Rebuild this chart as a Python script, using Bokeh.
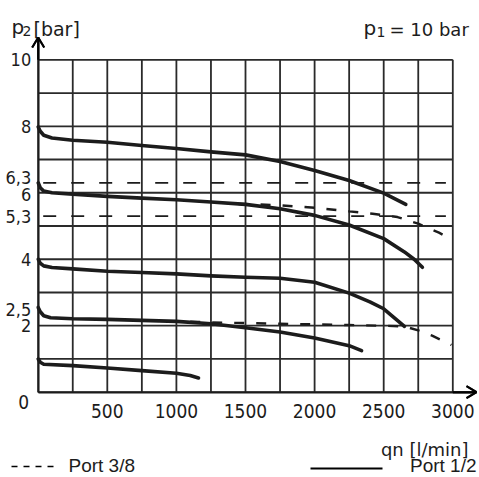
from bokeh.plotting import figure
from bokeh.models import FixedTicker, Label, Arrow, Range1d, LinearAxis
from bokeh.embed import file_html
from bokeh.resources import INLINE

# ---------------- data ----------------
x_ticks = [500, 1000, 1500, 2000, 2500, 3000]
x_tick_labels = ["500", "1000", "1500", "2000", "2500", "3000"]
y_ticks = [2, 2.5, 4, 5.3, 8, 10]
y_tick_labels = ["2", "2,5", "4", "5,3", "8", "10"]
y_ticks_close = [6, 6.3]            # two close ticks, labels nudged apart
y_tick_labels_close = ["6", "6,3"]
grid_x = [0, 250, 500, 750, 1000, 1250, 1500, 1750, 2000, 2250, 2500, 2750, 3000]
grid_y = [0, 1, 2, 3, 4, 5, 6, 7, 8, 9, 10]
ref_levels = [6.3, 5.3]
ref_x_end = 2950

# Port 1/2 (solid)
s8_x = [0, 15, 40, 100, 250, 500, 750, 1000, 1250, 1500, 1750, 2000, 2250, 2500, 2660]
s8_y = [7.98, 7.85, 7.73, 7.65, 7.58, 7.52, 7.42, 7.33, 7.23, 7.14, 6.94, 6.67, 6.37, 5.99, 5.65]
s6_x = [0, 15, 40, 100, 250, 500, 750, 1000, 1250, 1500, 1750, 2000, 2250, 2500, 2650, 2720, 2780]
s6_y = [6.3, 6.15, 6.05, 6.0, 5.96, 5.89, 5.84, 5.79, 5.72, 5.65, 5.52, 5.32, 5.03, 4.62, 4.22, 4.0, 3.76]
s4_x = [0, 15, 40, 100, 250, 500, 750, 1000, 1250, 1500, 1750, 2000, 2250, 2400, 2500, 2650]
s4_y = [4.0, 3.88, 3.8, 3.75, 3.71, 3.64, 3.6, 3.56, 3.5, 3.46, 3.43, 3.31, 2.98, 2.72, 2.51, 1.98]
s25_x = [0, 15, 40, 90, 250, 500, 750, 1000, 1250, 1500, 1750, 2000, 2250, 2340]
s25_y = [2.55, 2.42, 2.3, 2.24, 2.21, 2.19, 2.16, 2.13, 2.06, 1.94, 1.81, 1.63, 1.40, 1.25]
s1_x = [0, 15, 40, 250, 500, 750, 1000, 1100, 1160]
s1_y = [1.0, 0.9, 0.84, 0.8, 0.73, 0.65, 0.57, 0.5, 0.43]

# Port 3/8 (dashed)
d6_x = [1450, 1600, 1750, 2000, 2250, 2420, 2600, 2750, 2900, 2980]
d6_y = [5.66, 5.65, 5.62, 5.55, 5.44, 5.37, 5.27, 5.07, 4.8, 4.62]
d2_x = [1100, 1250, 1500, 1750, 2000, 2250, 2500, 2650, 2750, 2850, 2990]
d2_y = [2.12, 2.1, 2.08, 2.06, 2.04, 2.02, 2.0, 1.98, 1.86, 1.7, 1.42]

solid_curves = [(s8_x, s8_y), (s6_x, s6_y), (s4_x, s4_y), (s25_x, s25_y), (s1_x, s1_y)]
dashed_curves = [(d6_x, d6_y), (d2_x, d2_y)]

# ---------------- layout (frame covers whole canvas) ----------------
W, H = 479, 477
PX0, SX = 37.7, 414.6 / 3000.0     # page x of q=0, px per l/min
PY0, SY = 391.7, 332.4 / 10.0      # page y of p=0, px per bar


def dx(px):
    return (px - PX0) / SX


def dy(py):
    return (PY0 - py) / SY


INK = "#1c1c1c"
GRID = "#2a2a2a"
DIGIT_FONT = "DejaVu Sans Condensed"
TEXT_FONT = "DejaVu Sans"

p = figure(width=W, height=H, x_range=Range1d(dx(0), dx(W)), y_range=Range1d(dy(H), dy(0)),
           min_border_left=0, min_border_right=0, min_border_top=0, min_border_bottom=0,
           output_backend="svg", toolbar_location=None)
p.outline_line_color = None
p.xgrid.visible = False
p.ygrid.visible = False

# label nudges for the two close y ticks (in px): 6,3 up, 6 down
p.extra_y_ranges = {
    "up": Range1d(dy(H) - 5.5 / SY, dy(0) - 5.5 / SY),
    "down": Range1d(dy(H) + 2.0 / SY, dy(0) + 2.0 / SY),
}
ax63 = LinearAxis(y_range_name="up")
ax6 = LinearAxis(y_range_name="down")
p.add_layout(ax63, "left")
p.add_layout(ax6, "left")


def style_axis(ax, ticks, labels, size):
    ax.fixed_location = 0
    ax.ticker = FixedTicker(ticks=ticks)
    ax.major_label_overrides = {t: l for t, l in zip(ticks, labels)}
    ax.axis_line_color = None
    ax.major_tick_line_color = None
    ax.minor_tick_line_color = None
    ax.major_label_text_font = DIGIT_FONT
    ax.major_label_text_font_size = size
    ax.major_label_text_color = INK


style_axis(p.xaxis[0], x_ticks, x_tick_labels, "19px")
style_axis(p.yaxis[0], y_ticks, y_tick_labels, "18px")
style_axis(ax63, y_ticks_close[1:], y_tick_labels_close[1:], "18px")
style_axis(ax6, y_ticks_close[:1], y_tick_labels_close[:1], "18px")
# default tick_out (6, invisible) + standoff gives the label gap
p.xaxis[0].major_label_standoff = 6
for ax in (p.yaxis[0], ax63, ax6):
    ax.major_label_standoff = 1

# main axes draw their own line, running past the grid towards the arrow tips
p.xaxis[0].axis_line_color = INK
p.xaxis[0].axis_line_width = 2
p.xaxis[0].bounds = (grid_x[0], dx(475))
p.yaxis[0].axis_line_color = INK
p.yaxis[0].axis_line_width = 2
p.yaxis[0].bounds = (grid_y[0], dy(38))

# grid
p.segment(x0=grid_x, y0=[grid_y[0]] * len(grid_x), x1=grid_x, y1=[grid_y[-1]] * len(grid_x),
          line_color=GRID, line_width=1.8)
p.segment(x0=[grid_x[0]] * len(grid_y), y0=grid_y, x1=[grid_x[-1]] * len(grid_y), y1=grid_y,
          line_color=GRID, line_width=1.8)

# axis extensions with open arrowheads (segments beyond the grid)
ax_x0 = [grid_x[-1], dx(466), dx(466), grid_x[0], dx(PX0 - 6), dx(PX0 + 6)]
ax_y0 = [grid_y[0], dy(PY0 - 6), dy(PY0 + 6), grid_y[-1], dy(47), dy(47)]
ax_x1 = [dx(476), dx(476), dx(476), grid_x[0], grid_x[0], grid_x[0]]
ax_y1 = [grid_y[0], grid_y[0], grid_y[0], dy(37), dy(37), dy(37)]
p.segment(x0=ax_x0, y0=ax_y0, x1=ax_x1, y1=ax_y1, line_color=INK, line_width=2)

# reference dashed levels
p.segment(x0=[0] * len(ref_levels), y0=ref_levels, x1=[ref_x_end] * len(ref_levels), y1=ref_levels,
          line_color=INK, line_width=1.8, line_dash="13 15", line_dash_offset=23)

# curves
for cx, cy in solid_curves:
    p.line(cx, cy, line_color=INK, line_width=3.6, line_cap="round", line_join="round")
for cx, cy in dashed_curves:
    p.line(cx, cy, line_color=INK, line_width=2.4, line_dash="10 12")

# origin zero label
p.add_layout(Label(x=0, y=0, x_offset=-9, y_offset=-10, text="0", text_align="right",
                   text_baseline="middle", text_font=DIGIT_FONT, text_font_size="19px",
                   text_color=INK))


def lab(text, px, py, size, font=TEXT_FONT, align="left", baseline="alphabetic"):
    p.add_layout(Label(x=dx(px), y=dy(py), text=text, text_align=align, text_baseline=baseline,
                       text_font=font, text_font_size=size, text_color=INK))


# axis titles
lab("p", 11, 26, "20px")
lab("2", 22, 30, "14px")
lab("[bar]", 33, 28, "19px")
lab("p", 363, 27, "20px")
lab("1", 376, 31, "14px")
lab("= 10 bar", 389, 29, "18px")
lab("qn [l/min]", 468, 449, "18px", align="right")

# legend
p.add_layout(Arrow(end=None, x_start=dx(11), y_start=dy(466), x_end=dx(56), y_end=dy(466),
                   line_width=1.6, line_color="black", line_dash="6 6"))
lab("Port 3/8", 68, 465, "19px", font="Liberation Sans", baseline="middle")
p.add_layout(Arrow(end=None, x_start=dx(310), y_start=dy(468), x_end=dx(382), y_end=dy(468),
                   line_width=1.8, line_color="black"))
lab("Port 1/2", 476, 465, "19px", font="Liberation Sans", align="right", baseline="middle")

# arrowheads again as annotations, drawn last
for x0, y0, x1, y1 in zip(ax_x0, ax_y0, ax_x1, ax_y1):
    p.add_layout(Arrow(end=None, x_start=x0, y_start=y0, x_end=x1, y_end=y1,
                       line_width=2, line_color="black"))

open("out.html", "w").write(file_html(p, INLINE))
